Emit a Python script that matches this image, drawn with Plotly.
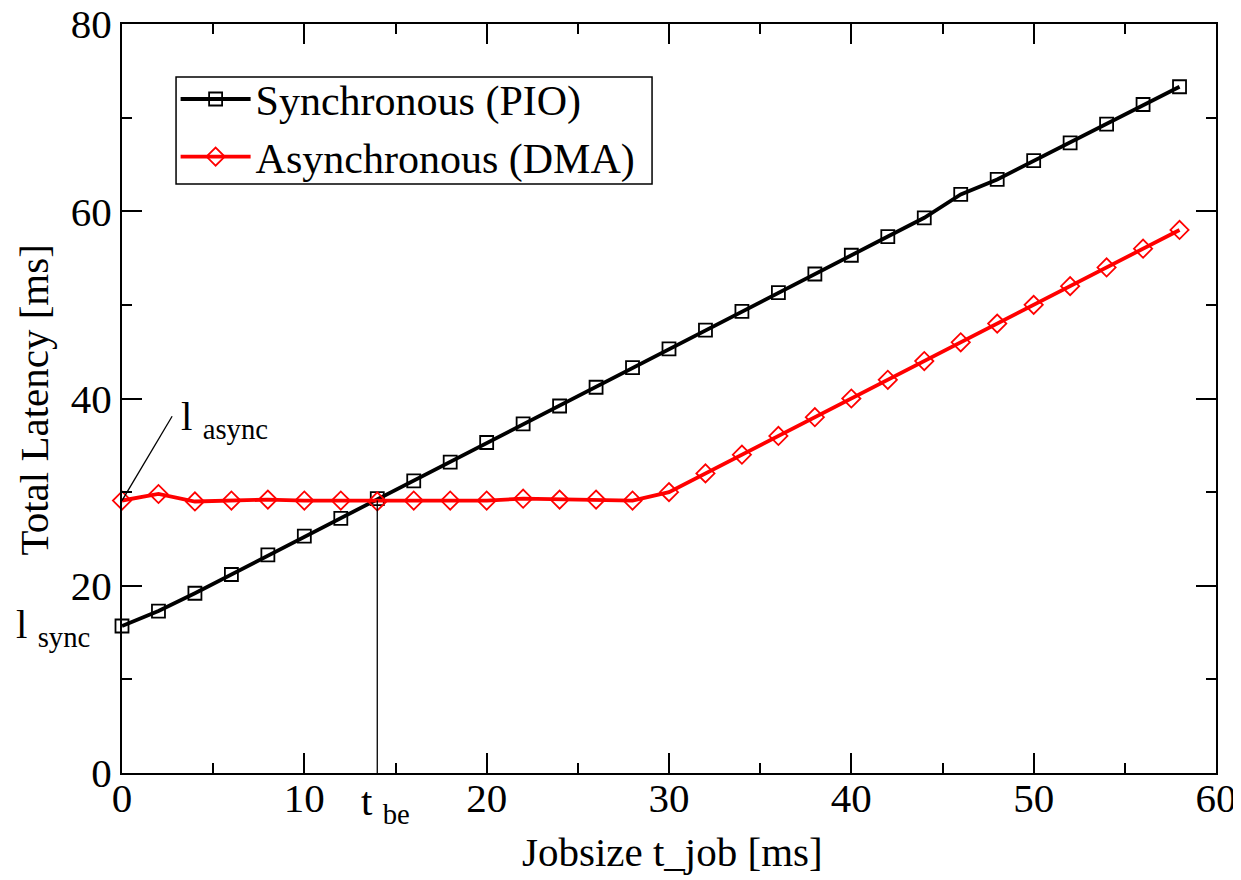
import plotly.graph_objects as go

x_job = [0, 2, 4, 6, 8, 10, 12, 14, 16, 18, 20, 22, 24, 26, 28, 30, 32, 34, 36, 38, 40, 42, 44, 46, 48, 50, 52, 54, 56, 58]
sync_pio = [15.7, 17.3, 19.2, 21.2, 23.3, 25.3, 27.2, 29.3, 31.2, 33.2, 35.3, 37.3, 39.2, 41.2, 43.3, 45.3, 47.3, 49.3, 51.3, 53.3, 55.3, 57.3, 59.3, 61.8, 63.4, 65.4, 67.3, 69.3, 71.4, 73.3]
async_dma = [29.1, 29.8, 29.0, 29.1, 29.2, 29.1, 29.1, 29.0, 29.1, 29.1, 29.1, 29.3, 29.2, 29.2, 29.1, 30.0, 32.0, 34.0, 36.0, 38.0, 40.0, 42.0, 44.0, 46.0, 48.0, 50.0, 52.0, 54.0, 56.0, 58.0]
t_be = 14
t_be_latency = 29.1

FONT = "Liberation Serif, Times New Roman, serif"
FS = 41
LFS = 42

fig = go.Figure()
fig.add_trace(go.Scatter(
    x=x_job, y=sync_pio, mode="lines+markers", name="Synchronous (PIO)",
    line=dict(color="black", width=3.8),
    marker=dict(symbol="square-open", size=13, color="black", line=dict(width=1.8)),
    cliponaxis=False))
fig.add_trace(go.Scatter(
    x=x_job, y=async_dma, mode="lines+markers", name="Asynchronous (DMA)",
    line=dict(color="red", width=3.8),
    marker=dict(symbol="diamond-open", size=14, color="red", line=dict(width=1.8)),
    cliponaxis=False))

# vertical line at break-even point
fig.add_shape(type="line", x0=t_be, x1=t_be, y0=0, y1=t_be_latency,
              line=dict(color="black", width=1.3))
# leader line for l_async
fig.add_shape(type="line", x0=0, y0=async_dma[0], x1=2.75, y1=38.1,
              line=dict(color="black", width=1.3))
# legend frame
fig.add_shape(type="rect", xref="paper", yref="paper",
              x0=0.0494, x1=0.4845, y0=0.7864, y1=0.9292,
              line=dict(color="black", width=1.5), fillcolor="rgba(0,0,0,0)", layer="above")

fig.add_annotation(x=3.15, y=37.8, xref="x", yref="y", xanchor="left",
                   text="l <sub>async</sub>", showarrow=False,
                   font=dict(family=FONT, size=FS, color="black"))
fig.add_annotation(x=-0.0984, y=15.6, xref="paper", yref="y", xanchor="left",
                   text="l <sub>sync</sub>", showarrow=False,
                   font=dict(family=FONT, size=FS, color="black"))
fig.add_annotation(x=t_be + 0.45, y=-0.004, xref="x", yref="paper", yanchor="top",
                   text="t <sub>be</sub>", showarrow=False,
                   font=dict(family=FONT, size=FS, color="black"))
# axis titles
fig.add_annotation(x=0.503, y=-0.1055, xref="paper", yref="paper", yanchor="middle",
                   text="Jobsize t_job [ms]", showarrow=False,
                   font=dict(family=FONT, size=FS, color="black"))
fig.add_annotation(x=-0.080, y=0.498, xref="paper", yref="paper", xanchor="center",
                   text="Total Latency [ms]", showarrow=False, textangle=-90,
                   font=dict(family=FONT, size=FS, color="black"))

axis_common = dict(
    showline=True, linecolor="black", linewidth=2, mirror="ticks",
    ticks="inside", ticklen=20, tickwidth=1.5, tickcolor="black",
    showgrid=False, zeroline=False, automargin=False, ticklabeloverflow="allow",
    tickfont=dict(family=FONT, size=FS, color="black"),
)

fig.update_xaxes(range=[0, 60], dtick=10, tick0=0, ticklabelstandoff=-12,
                 minor=dict(ticks="inside", ticklen=10, dtick=5, tickcolor="black", tickwidth=1.5),
                 **axis_common)
fig.update_yaxes(range=[0, 80], dtick=20, tick0=0,
                 minor=dict(ticks="inside", ticklen=10, dtick=10, tickcolor="black", tickwidth=1.5),
                 **axis_common)

# page body has an 8px margin, so the figure is offset and margins shifted
fig.update_layout(
    width=1233, height=872,
    margin=dict(l=114, r=25, t=16, b=107),
    paper_bgcolor="white", plot_bgcolor="white",
    font=dict(family=FONT, color="black"),
    legend=dict(x=0.049, y=0.945, xanchor="left", yanchor="top",
                borderwidth=0, bgcolor="rgba(0,0,0,0)",
                font=dict(family=FONT, size=LFS, color="black"),
                itemwidth=70, tracegroupgap=0),
    showlegend=True,
)

fig.write_html("out.html")
